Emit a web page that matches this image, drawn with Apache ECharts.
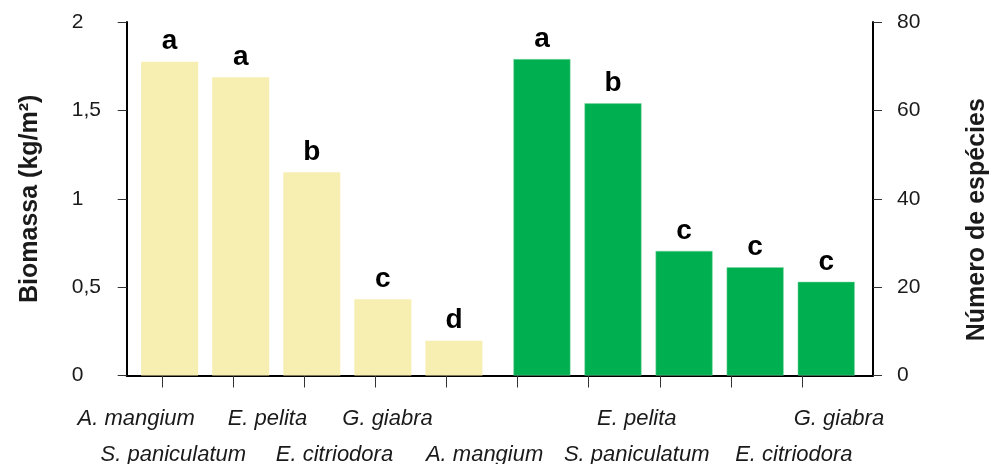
<!DOCTYPE html>
<html>
<head>
<meta charset="utf-8">
<script src="https://cdn.jsdelivr.net/npm/echarts@6/dist/echarts.min.js"></script>
<style>html,body{margin:0;padding:0;background:#fff}#c{width:991px;height:464px}</style>
</head>
<body>
<div id="c"></div>
<script>
// ---- data ----
const categories = ['A. mangium','S. paniculatum','E. pelita','E. citriodora','G. giabra',
                    'A. mangium','S. paniculatum','E. pelita','E. citriodora','G. giabra'];
const biomassValues = [1.775, 1.687, 1.150, 0.431, 0.197];
const biomassLetters = ['a','a','b','c','d'];
const speciesValues = [71.6, 61.6, 28.2, 24.5, 21.2];
const speciesLetters = ['a','b','c','c','c'];
const leftTicks = [0, 0.5, 1, 1.5, 2];
const rightTicks = [0, 20, 40, 60, 80];

// ---- layout (styles / positions only) ----
const GRID = {left: 126.7, right: 118, top: 22, bottom: 88.5};
const CHART_W = 991;
const labelShiftPx = [-26, -60, -37, -41, -59, -33, 48, -23, 63, 37];
const labelRow     = [0, 1, 0, 1, 0, 1, 1, 0, 1, 0];
const leftGroupShift = 0.104;   // bar offset from tick, in category units
const rightGroupShift = 0.342;

const FONT = 'Liberation Sans, Arial, sans-serif';
const TXT = '#1a1a1a';

const nCat = categories.length;
const axisMin = -0.5, axisMax = nCat;
const unitPx = (CHART_W - GRID.left - GRID.right) / (axisMax - axisMin);
const catIdx = categories.map((_, i) => i);
const biomassData = biomassValues.map((v, i) => [i, v]);
const speciesData = speciesValues.map((v, i) => [i + biomassValues.length, v]);

// label anchor positions per row (category index + layout shift)
const rowLabels = [0, 1].map(r => catIdx.filter(i => labelRow[i] === r)
  .map(i => ({pos: i + labelShiftPx[i] / unitPx, name: categories[i]})));

const hiddenAxis = (shift) => ({
  type: 'value', position: 'bottom', min: axisMin - shift, max: axisMax - shift,
  axisLine: {show: false}, axisTick: {show: false}, axisLabel: {show: false}, splitLine: {show: false}
});
const labelAxis = (r, margin) => ({
  type: 'value', position: 'bottom', min: axisMin, max: axisMax,
  axisLine: {show: false}, axisTick: {show: false}, splitLine: {show: false},
  axisLabel: {
    show: true, customValues: rowLabels[r].map(o => o.pos), margin: margin,
    showMinLabel: true, showMaxLabel: true, hideOverlap: false,
    fontFamily: FONT, fontSize: 22, fontStyle: 'italic', color: TXT,
    formatter: (v) => {
      const o = rowLabels[r].find(o => Math.abs(o.pos - v) < 1e-6);
      return o ? o.name : '';
    }
  }
});

const chart = echarts.init(document.getElementById('c'), null, {renderer: 'canvas'});
chart.setOption({
  animation: false,
  backgroundColor: '#fff',
  grid: Object.assign({containLabel: false, outerBoundsMode: 'none'}, GRID),
  xAxis: [
    {
      type: 'value', position: 'bottom', min: axisMin, max: axisMax,
      splitLine: {show: false},
      axisLine: {show: true, onZero: false, lineStyle: {color: '#000', width: 2}},
      axisTick: {show: true, customValues: catIdx, length: 12, lineStyle: {color: '#333', width: 1}},
      axisLabel: {show: false}
    },
    hiddenAxis(leftGroupShift),
    hiddenAxis(rightGroupShift),
    labelAxis(0, 32),
    labelAxis(1, 68)
  ],
  yAxis: [
    {
      type: 'value', position: 'left', min: 0, max: 2, interval: 0.5,
      name: 'Biomassa (kg/m²)', nameLocation: 'middle', nameGap: 84, nameRotate: 90,
      nameTextStyle: {fontFamily: FONT, fontSize: 25, fontWeight: 'bold', color: TXT},
      splitLine: {show: false},
      axisLine: {show: true, onZero: false, lineStyle: {color: '#000', width: 2}},
      axisTick: {show: true, length: 9, lineStyle: {color: '#333', width: 1}},
      axisLabel: {
        margin: 55, align: 'left', fontFamily: FONT, fontSize: 21, color: TXT,
        formatter: (v) => String(v).replace('.', ',')
      }
    },
    {
      type: 'value', position: 'right', min: 0, max: 80, interval: 20,
      name: 'Número de espécies', nameLocation: 'middle', nameGap: 92, nameRotate: 90,
      nameTextStyle: {fontFamily: FONT, fontSize: 25, fontWeight: 'bold', color: TXT, padding: [0, 42, 0, 0]},
      splitLine: {show: false},
      axisLine: {show: true, onZero: false, lineStyle: {color: '#000', width: 2}},
      axisTick: {show: true, length: 9, lineStyle: {color: '#333', width: 1}},
      axisLabel: {margin: 24, align: 'left', fontFamily: FONT, fontSize: 21, color: TXT}
    }
  ],
  series: [
    {
      type: 'bar', name: 'Biomassa', xAxisIndex: 1, yAxisIndex: 0,
      data: biomassData, barWidth: 57,
      itemStyle: {color: '#F7EEB1'},
      label: {show: true, position: 'top', distance: 6, fontFamily: FONT, fontSize: 28, fontWeight: 'bold', color: '#000',
        formatter: (p) => biomassLetters[p.dataIndex]}
    },
    {
      type: 'bar', name: 'Espécies', xAxisIndex: 2, yAxisIndex: 1,
      data: speciesData, barWidth: 57,
      itemStyle: {color: '#00B050', borderColor: '#7ED6A0', borderWidth: 0.5},
      label: {show: true, position: 'top', distance: 6, fontFamily: FONT, fontSize: 28, fontWeight: 'bold', color: '#000',
        formatter: (p) => speciesLetters[p.dataIndex]}
    }
  ]
});
</script>
</body>
</html>
